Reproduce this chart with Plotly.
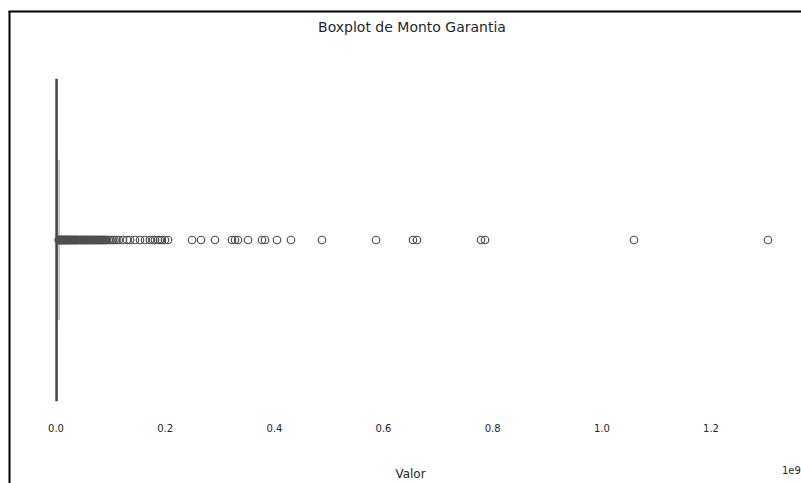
import plotly.graph_objects as go

# ---- data (values in units of 1e9) ----
SCALE = 1e9
box_q1 = [0.0001]
box_median = [0.0004]
box_q3 = [0.0019]
whisker_low = [0.0]
whisker_high = [0.0046]

outliers = [
    0.0050, 0.0058, 0.0066, 0.0075, 0.0083, 0.0090, 0.0100, 0.0110, 0.0118, 0.0125,
    0.0133, 0.0140, 0.0150, 0.0160, 0.0170, 0.0180, 0.0188, 0.0195, 0.0203, 0.0210,
    0.0220, 0.0230, 0.0240, 0.0250, 0.0260, 0.0270, 0.0280, 0.0290, 0.0300, 0.0310,
    0.0320, 0.0330, 0.0340, 0.0350, 0.0360, 0.0370, 0.0380, 0.0390, 0.0400, 0.0410,
    0.0425, 0.0440, 0.0450, 0.0460, 0.0470, 0.0480, 0.0495, 0.0510, 0.0520, 0.0530,
    0.0545, 0.0560, 0.0570, 0.0580, 0.0595, 0.0610, 0.0620, 0.0630, 0.0645, 0.0660,
    0.0675, 0.0690, 0.0705, 0.0720, 0.0735, 0.0750, 0.0765, 0.0780, 0.0795, 0.0810,
    0.0825, 0.0840, 0.0855, 0.0870, 0.0885, 0.0900, 0.0915, 0.0930,
    0.0970, 0.1000, 0.1040, 0.1070, 0.1110, 0.1150,
    0.1227, 0.1300, 0.1356, 0.1447, 0.1539, 0.1631, 0.1722, 0.1777, 0.1814, 0.1869,
    0.1905, 0.1942, 0.1997, 0.2052,
    0.2492, 0.2657, 0.2913, 0.3224, 0.3279, 0.3334, 0.3518, 0.3774, 0.3829, 0.4049,
    0.4305, 0.4873, 0.5863, 0.6541, 0.6614, 0.7786, 0.7860, 1.0589, 1.3044,
]

tick_values = [0.0, 0.2, 0.4, 0.6, 0.8, 1.0, 1.2]
tick_labels = ["0.0", "0.2", "0.4", "0.6", "0.8", "1.0", "1.2"]

title_text = "Boxplot de Monto Garantia"
x_title = "Valor"
offset_text = "1e9"

# ---- figure ----
W, H = 801, 483
ML, MR, MT, MB = 20, 0, 42, 65
PLOT_W = W - ML - MR
PLOT_H = H - MT - MB
PX_PER_UNIT = 545.83  # pixels per 1e9
ZERO_PX = 56

x_min = (ML - ZERO_PX) / PX_PER_UNIT * SCALE
x_max = (W - MR - ZERO_PX) / PX_PER_UNIT * SCALE

def s(v):
    return [x * SCALE for x in v]

fig = go.Figure()

# cap of the upper whisker (light)
fig.add_trace(go.Box(
    y=[0], orientation="h",
    q1=s(whisker_high), median=s(whisker_high), q3=s(whisker_high),
    lowerfence=s(whisker_high), upperfence=s(whisker_high),
    width=0.4, fillcolor="rgba(0,0,0,0)",
    line=dict(color="#c6c6c6", width=3),
    boxpoints=False, showlegend=False, hoverinfo="skip",
))

# box + whisker
fig.add_trace(go.Box(
    y=[0], orientation="h",
    q1=s(box_q1), median=s(box_median), q3=s(box_q3),
    lowerfence=s(whisker_low), upperfence=s(whisker_high),
    width=0.8, whiskerwidth=0,
    fillcolor="#8a6f5c",
    line=dict(color="#4e4038", width=1.5),
    boxpoints=False, showlegend=False,
))

# outliers
fig.add_trace(go.Scatter(
    x=s(outliers), y=[0] * len(outliers),
    mode="markers",
    marker=dict(symbol="circle-open", size=7.5, color="#4f4f4f",
                line=dict(width=1.2, color="#4f4f4f")),
    showlegend=False,
))

fig.update_layout(
    width=W, height=H,
    margin=dict(l=ML, r=MR, t=MT, b=MB, pad=0),
    paper_bgcolor="white", plot_bgcolor="white",
    boxmode="overlay",
    font=dict(family="DejaVu Sans", color="#262626"),
    title=dict(text=title_text, x=412 / W, xanchor="center",
               y=1 - 27 / H, yanchor="middle",
               font=dict(size=14, color="#262626")),
    xaxis=dict(
        range=[x_min, x_max],
        tickvals=[t * SCALE for t in tick_values],
        ticktext=tick_labels,
        showgrid=False, zeroline=False, showline=False,
        ticks="", ticklabelstandoff=3,
        tickfont=dict(size=10, color="#262626"),
        title=dict(text=x_title, font=dict(size=12, color="#262626"), standoff=36),
    ),
    yaxis=dict(
        range=[-(418 - 240) / 401, (240 - 42) / 401],
        showticklabels=False, showgrid=False, zeroline=False, showline=False,
        ticks="",
    ),
    annotations=[dict(
        text=offset_text, xref="paper", yref="paper",
        x=(780 - ML) / PLOT_W, y=-(470 - (H - MB)) / PLOT_H,
        xanchor="left", yanchor="middle", showarrow=False,
        font=dict(size=10, color="#262626"),
    )],
    shapes=[
        dict(type="line", xref="paper", yref="paper",
             x0=(9.5 - ML) / PLOT_W, x1=(9.5 - ML) / PLOT_W,
             y0=((H - MB) - 11) / PLOT_H, y1=((H - MB) - 483) / PLOT_H,
             line=dict(color="black", width=2)),
        dict(type="line", xref="paper", yref="paper",
             x0=(8.5 - ML) / PLOT_W, x1=(801 - ML) / PLOT_W,
             y0=((H - MB) - 11.5) / PLOT_H, y1=((H - MB) - 11.5) / PLOT_H,
             line=dict(color="black", width=2)),
    ],
)

fig.write_html("out.html")
